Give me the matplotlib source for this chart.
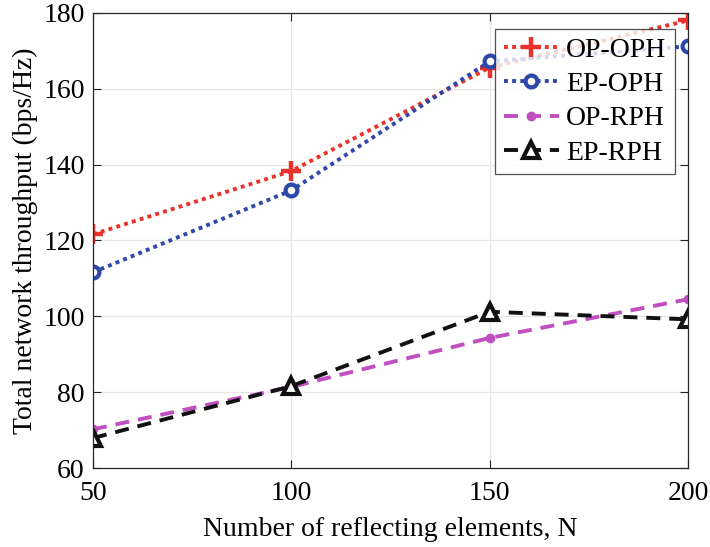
import matplotlib
matplotlib.use("Agg")
import matplotlib.pyplot as plt

plt.rcParams['font.family'] = ['Liberation Serif', 'DejaVu Serif']
plt.rcParams['mathtext.fontset'] = 'stix'

n_elements = [50, 100, 150, 200]
op_oph = [121.6, 138.3, 165.6, 178.0]
ep_oph = [111.6, 133.2, 167.2, 171.2]
op_rph = [70.2, 81.4, 94.3, 104.5]
ep_rph = [67.9, 81.6, 101.2, 99.2]

fig = plt.figure(figsize=(7.1, 5.47), dpi=100)
ax = fig.add_axes([0.131, 0.1444, 0.838, 0.832])

dot = (1.0, 1.1)
dash = (3.6, 2.3)
ax.plot(n_elements, op_oph, color='#e8322b', lw=2.8, dashes=dot, marker='+', ms=14, mew=3.2,
        label='OP-OPH')
ax.plot(n_elements, ep_oph, color='#2d48a8', lw=2.8, dashes=dot, marker='o', ms=8.5, mew=3,
        mfc='white', mec='#2d48a8', label='EP-OPH')
ax.plot(n_elements, op_rph, color='#c04fc0', lw=2.8, dashes=dash, marker='o', ms=6,
        mfc='#c04fc0', mec='#c04fc0', label='OP-RPH')
ax.plot(n_elements, ep_rph, color='#111111', lw=2.8, dashes=dash, marker='^', ms=11, mew=3,
        mfc='white', mec='#111111', label='EP-RPH')

ax.set_xlim(50, 200)
ax.set_ylim(60, 180)
ax.set_xticks([50, 100, 150, 200])
ax.set_yticks([60, 80, 100, 120, 140, 160, 180])
ax.grid(True, color='#e6e6e6', lw=0.9)
ax.set_axisbelow(True)
ax.tick_params(direction='in', length=6, width=0.8, labelsize=20, top=True, right=True,
               colors='#262626', labelcolor='black')
ax.tick_params(axis='x', pad=9)
ax.tick_params(axis='y', pad=6)
for s in ax.spines.values():
    s.set_color('#262626')
    s.set_linewidth(0.9)

ax.set_xlabel('Number of reflecting elements, N', fontsize=20, labelpad=8)
ax.set_ylabel('Total network throughput (bps/Hz)', fontsize=20, labelpad=4)

leg = ax.legend(loc='upper left', bbox_to_anchor=(0.676, 0.965), fontsize=20, frameon=True,
                fancybox=False, edgecolor='#262626', borderpad=0.3, labelspacing=0.32,
                handlelength=2.0, handletextpad=0.25, borderaxespad=0)
leg.get_frame().set_linewidth(0.9)

fig.savefig('out.png', dpi=100)
